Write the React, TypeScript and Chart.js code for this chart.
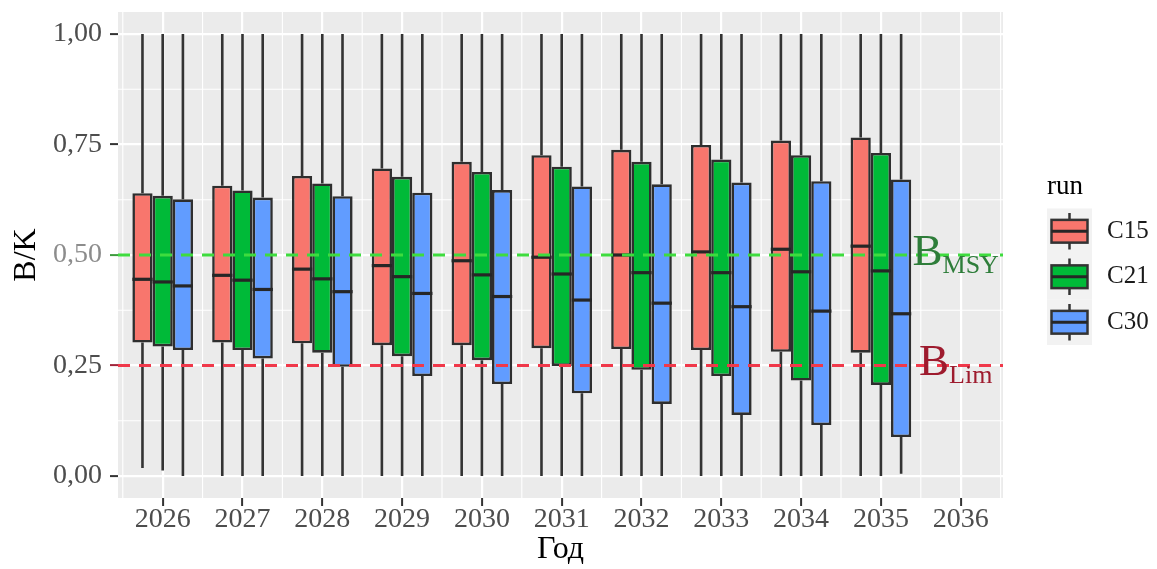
import React, { useEffect, useRef } from 'react';
import { Chart, registerables } from 'chart.js';

Chart.register(...registerables);

// ---------- data ----------
const years = [2026, 2027, 2028, 2029, 2030, 2031, 2032, 2033, 2034, 2035];
const xTickYears = [2026, 2027, 2028, 2029, 2030, 2031, 2032, 2033, 2034, 2035, 2036];
const xMinorBreaks = [2025.5, 2026.5, 2027.5, 2028.5, 2029.5, 2030.5, 2031.5, 2032.5, 2033.5, 2034.5, 2035.5, 2036.5];
const yTicks = [0, 0.25, 0.5, 0.75, 1];
const yMinorBreaks = [0.125, 0.375, 0.625, 0.875];

const runNames = ['C15', 'C21', 'C30'];

const c15Low = [0.018, 0, 0, 0, 0, 0, 0, 0, 0, 0];
const c15Q1 = [0.302, 0.302, 0.300, 0.296, 0.296, 0.289, 0.287, 0.285, 0.281, 0.279];
const c15Med = [0.445, 0.454, 0.468, 0.476, 0.487, 0.495, 0.500, 0.507, 0.513, 0.520];
const c15Q3 = [0.640, 0.657, 0.679, 0.696, 0.711, 0.726, 0.738, 0.749, 0.759, 0.766];
const c15High = [1, 1, 1, 1, 1, 1, 1, 1, 1, 1];

const c21Low = [0.012, 0, 0, 0, 0, 0, 0, 0, 0, 0];
const c21Q1 = [0.293, 0.285, 0.279, 0.271, 0.262, 0.249, 0.240, 0.226, 0.216, 0.206];
const c21Med = [0.439, 0.443, 0.446, 0.451, 0.455, 0.457, 0.460, 0.460, 0.462, 0.464];
const c21Q3 = [0.634, 0.646, 0.662, 0.677, 0.688, 0.700, 0.711, 0.716, 0.726, 0.731];
const c21High = [1, 1, 1, 1, 1, 1, 1, 1, 1, 1];

const c30Low = [0, 0, 0, 0, 0, 0, 0, 0, 0, 0.005];
const c30Q1 = [0.285, 0.266, 0.247, 0.226, 0.208, 0.187, 0.163, 0.138, 0.115, 0.088];
const c30Med = [0.430, 0.422, 0.417, 0.413, 0.406, 0.398, 0.391, 0.383, 0.373, 0.367];
const c30Q3 = [0.626, 0.630, 0.633, 0.641, 0.647, 0.655, 0.660, 0.664, 0.667, 0.671];
const c30High = [1, 1, 1, 1, 1, 1, 1, 1, 1, 1];

const refValues = [0.5, 0.25];
const refMain = ['B', 'B'];
const refSub = ['MSY', 'Lim'];
const refLabelYear = 2036;

// ---------- styles ----------
const FONT = "'Liberation Serif', 'Times New Roman', serif";
const runColors = ['#F8766D', '#00BA38', '#619CFF'];
const refLineColors = ['#3EDC3E', '#F0384A'];
const refTextColors = ['#2E7D3A', '#9E1B2E'];
const refTickColors = ['#3E9A3E', '#A0243A'];

const stats = [
  { low: c15Low, q1: c15Q1, med: c15Med, q3: c15Q3, high: c15High },
  { low: c21Low, q1: c21Q1, med: c21Med, q3: c21Q3, high: c21High },
  { low: c30Low, q1: c30Q1, med: c30Med, q3: c30Q3, high: c30High },
];

const ggPlugin = {
  id: 'ggbox',
  beforeDraw(chart: any) {
    const { ctx, chartArea: a } = chart;
    ctx.save();
    ctx.fillStyle = '#EBEBEB';
    ctx.fillRect(a.left, a.top, a.right - a.left, a.bottom - a.top);
    ctx.restore();
  },
  beforeDatasetsDraw(chart: any) {
    const { ctx, chartArea: a, scales } = chart;
    const xs = scales.x, ys = scales.y;
    ctx.save();
    ctx.strokeStyle = '#FFFFFF';
    ctx.lineWidth = 1.1;
    ctx.beginPath();
    xMinorBreaks.forEach((v) => {
      const px = xs.getPixelForValue(v);
      if (px < a.left || px > a.right) return;
      ctx.moveTo(px, a.top);
      ctx.lineTo(px, a.bottom);
    });
    yMinorBreaks.forEach((v) => {
      const py = ys.getPixelForValue(v);
      ctx.moveTo(a.left, py);
      ctx.lineTo(a.right, py);
    });
    ctx.stroke();
    ctx.restore();
  },
  afterDatasetsDraw(chart: any) {
    const { ctx, chartArea: a, scales } = chart;
    const xs = scales.x, ys = scales.y;
    ctx.save();
    // whiskers and medians
    stats.forEach((s, i) => {
      const meta = chart.getDatasetMeta(i);
      meta.data.forEach((el: any, j: number) => {
        const cx = el.x;
        const half = el.width / 2;
        ctx.strokeStyle = '#333333';
        ctx.lineWidth = 2.6;
        ctx.beginPath();
        ctx.moveTo(cx, ys.getPixelForValue(s.high[j]));
        ctx.lineTo(cx, ys.getPixelForValue(s.q3[j]));
        ctx.moveTo(cx, ys.getPixelForValue(s.q1[j]));
        ctx.lineTo(cx, ys.getPixelForValue(s.low[j]));
        ctx.stroke();
        ctx.strokeStyle = '#262626';
        ctx.lineWidth = 3.2;
        ctx.beginPath();
        const my = ys.getPixelForValue(s.med[j]);
        ctx.moveTo(cx - half, my);
        ctx.lineTo(cx + half, my);
        ctx.stroke();
      });
    });
    // reference lines
    refValues.forEach((v, i) => {
      const py = ys.getPixelForValue(v);
      ctx.strokeStyle = refLineColors[i];
      ctx.lineWidth = 3;
      ctx.setLineDash([12, 9]);
      ctx.beginPath();
      ctx.moveTo(a.left, py);
      ctx.lineTo(a.right, py);
      ctx.stroke();
    });
    ctx.setLineDash([]);
    // reference labels
    refValues.forEach((v, i) => {
      const py = ys.getPixelForValue(v);
      const cx = xs.getPixelForValue(refLabelYear) - 5;
      ctx.font = `45px ${FONT}`;
      const wMain = ctx.measureText(refMain[i]).width;
      ctx.font = `26px ${FONT}`;
      const wSub = ctx.measureText(refSub[i]).width;
      const x0 = cx - (wMain + wSub) / 2;
      ctx.fillStyle = refTextColors[i];
      ctx.textAlign = 'left';
      ctx.textBaseline = 'alphabetic';
      ctx.font = `45px ${FONT}`;
      ctx.fillText(refMain[i], x0, py + 10);
      ctx.font = `26px ${FONT}`;
      ctx.fillText(refSub[i], x0 + wMain, py + 18);
    });
    ctx.restore();
  },
  afterDraw(chart: any) {
    const { ctx, chartArea: a } = chart;
    const keyX = a.right + 44;
    const keyW = 45;
    const rowH = 45.5;
    const top0 = 208.5;
    ctx.save();
    ctx.fillStyle = '#000000';
    ctx.font = `27px ${FONT}`;
    ctx.textAlign = 'left';
    ctx.textBaseline = 'alphabetic';
    ctx.fillText('run', keyX, 194);
    runNames.forEach((name, i) => {
      const ty = top0 + i * rowH;
      ctx.fillStyle = '#F2F2F2';
      ctx.fillRect(keyX, ty, keyW, rowH);
      const bx0 = keyX + 0.1 * keyW;
      const bx1 = keyX + 0.9 * keyW;
      const cx = keyX + keyW / 2;
      const by0 = ty + 0.25 * rowH;
      const by1 = ty + 0.75 * rowH;
      ctx.strokeStyle = '#333333';
      ctx.lineWidth = 2.5;
      ctx.beginPath();
      ctx.moveTo(cx, ty + 0.1 * rowH);
      ctx.lineTo(cx, by0);
      ctx.moveTo(cx, by1);
      ctx.lineTo(cx, ty + 0.9 * rowH);
      ctx.stroke();
      ctx.fillStyle = runColors[i];
      ctx.fillRect(bx0, by0, bx1 - bx0, by1 - by0);
      ctx.strokeRect(bx0, by0, bx1 - bx0, by1 - by0);
      ctx.lineWidth = 3;
      ctx.strokeStyle = '#262626';
      ctx.beginPath();
      ctx.moveTo(bx0, ty + rowH / 2);
      ctx.lineTo(bx1, ty + rowH / 2);
      ctx.stroke();
      ctx.fillStyle = '#1A1A1A';
      ctx.font = `25px ${FONT}`;
      ctx.textBaseline = 'middle';
      ctx.fillText(name, keyX + 60, ty + rowH / 2);
      ctx.textBaseline = 'alphabetic';
    });
    ctx.restore();
  },
};

export default function App() {
  const canvasRef = useRef<HTMLCanvasElement | null>(null);

  useEffect(() => {
    const canvas = canvasRef.current;
    if (!canvas) return;
    const chart = new Chart(canvas, {
      type: 'bar',
      data: {
        datasets: runNames.map((name, i) => ({
          label: name,
          data: years.map((yr, j) => ({ x: yr, y: [stats[i].q1[j], stats[i].q3[j]] })),
          backgroundColor: runColors[i],
          borderColor: '#2E2E2E',
          borderWidth: 2.6,
          borderSkipped: false,
          categoryPercentage: 0.76,
          barPercentage: 1,
        })) as any,
      },
      options: {
        responsive: false,
        animation: false,
        layout: { padding: { top: 12, right: 154, left: 0, bottom: 0 } },
        plugins: { legend: { display: false }, tooltip: { enabled: false } },
        scales: {
          x: {
            type: 'linear',
            min: 2025.44,
            max: 2036.53,
            offset: false,
            afterBuildTicks: (s: any) => {
              s.ticks = xTickYears.map((v) => ({ value: v }));
            },
            afterFit: (s: any) => {
              s.height = 71;
              s.paddingLeft = 0;
              s.paddingRight = 0;
            },
            grid: {
              offset: false,
              color: '#FFFFFF',
              lineWidth: 2.2,
              drawTicks: true,
              tickLength: 8,
              tickWidth: 2,
              tickColor: '#333333',
            },
            border: { display: false },
            ticks: {
              autoSkip: false,
              maxRotation: 0,
              padding: 0,
              color: '#4D4D4D',
              font: { family: FONT, size: 28, lineHeight: 1 },
              callback: (v: any) => String(v),
            },
            title: {
              display: true,
              text: 'Год',
              color: '#000000',
              font: { family: FONT, size: 32 },
              padding: { top: 0, bottom: 0 },
            },
          },
          y: {
            type: 'linear',
            min: -0.05,
            max: 1.05,
            afterBuildTicks: (s: any) => {
              s.ticks = yTicks.map((v) => ({ value: v }));
            },
            afterFit: (s: any) => {
              s.width = 118;
              s.paddingTop = 0;
              s.paddingBottom = 0;
            },
            grid: {
              color: '#FFFFFF',
              lineWidth: 2.2,
              drawTicks: true,
              tickLength: 8,
              tickWidth: 2,
              tickColor: (c: any) => {
                const k = refValues.indexOf(c.tick ? c.tick.value : NaN);
                return k >= 0 ? refTickColors[k] : '#333333';
              },
            },
            border: { display: false },
            ticks: {
              autoSkip: false,
              padding: 8,
              color: (c: any) => (c.tick && c.tick.value === 0.5 ? '#8C8C8C' : '#4D4D4D'),
              font: { family: FONT, size: 28, lineHeight: 1 },
              callback: (v: any) => Number(v).toFixed(2).replace('.', ','),
            },
            title: {
              display: true,
              text: 'B/K',
              color: '#000000',
              font: { family: FONT, size: 32 },
              padding: { top: 7, bottom: 0 },
            },
          },
        },
      } as any,
      plugins: [ggPlugin],
    });
    return () => chart.destroy();
  }, []);

  return (
    <div style={{ position: 'fixed', left: 0, top: 0, width: 1157, height: 569, background: '#FFFFFF' }}>
      <canvas ref={canvasRef} width={1157} height={569} style={{ display: 'block' }} />
    </div>
  );
}
